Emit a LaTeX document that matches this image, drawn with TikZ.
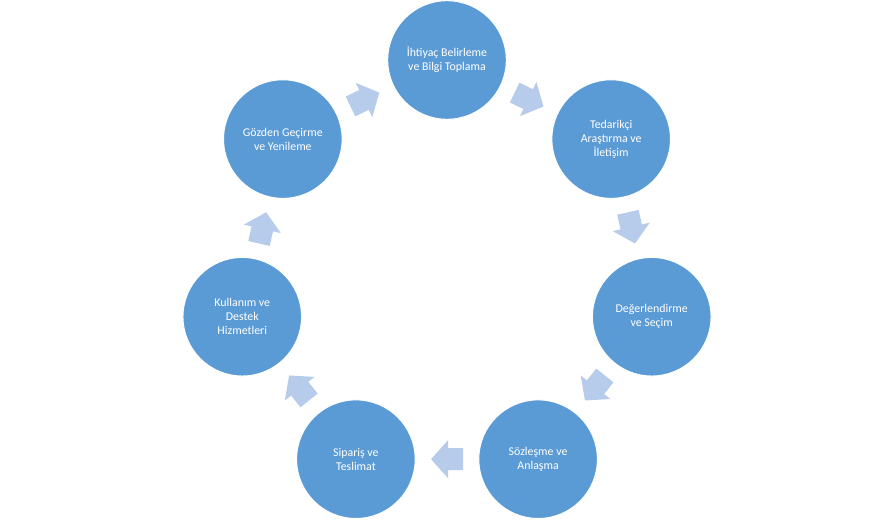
\documentclass[tikz,border=0pt]{standalone}
\usepackage{fontspec}
\setmainfont{Carlito}
\usetikzlibrary{calc}
\definecolor{circblue}{HTML}{5B9BD5}
\definecolor{arrblue}{RGB}{183,204,234}
\tikzset{
  stage/.style={circle, fill=circblue, draw=white, line width=0.8pt, minimum size=89pt, inner sep=0pt,
    text=white, align=center, font=\fontsize{8.9}{10.6}\selectfont},
  blockarrow/.style={fill=arrblue, draw=none}
}
\newcommand{\blockarr}[2]{%
  \fill[arrblue, shift={(#1)}, rotate=#2]
    (-16,-11) -- (-1,-11) -- (-1,-19) -- (16,0) -- (-1,19) -- (-1,11) -- (-16,11) -- cycle;}
\begin{document}
\begin{tikzpicture}[x=0.75pt, y=0.75pt]
\useasboundingbox (0,0) rectangle (894,522);
\coordinate (C) at (447,252);
\node[stage] (n1) at ([shift={(90:210)}]C) {İhtiyaç Belirleme\\ve Bilgi Toplama};
\node[stage] (n2) at ([shift={(38.571:210)}]C) {Tedarikçi\\Araştırma ve\\İletişim};
\node[stage] (n3) at ([shift={(-12.857:210)}]C) {Değerlendirme\\ve Seçim};
\node[stage] (n4) at ([shift={(-64.286:210)}]C) {Sözleşme ve\\Anlaşma};
\node[stage] (n5) at ([shift={(-115.714:210)}]C) {Sipariş ve\\Teslimat};
\node[stage] (n6) at ([shift={(-167.143:210)}]C) {Kullanım ve\\Destek\\Hizmetleri};
\node[stage] (n7) at ([shift={(-218.571:210)}]C) {Gözden Geçirme\\ve Yenileme};
\coordinate (m12) at ($(n1)!0.5!(n2)$);
\coordinate (m23) at ($(n2)!0.5!(n3)$);
\coordinate (m34) at ($(n3)!0.5!(n4)$);
\coordinate (m45) at ($(n4)!0.5!(n5)$);
\coordinate (m56) at ($(n5)!0.5!(n6)$);
\coordinate (m67) at ($(n6)!0.5!(n7)$);
\coordinate (m71) at ($(n7)!0.5!(n1)$);
\blockarr{m12}{-25.714}
\blockarr{m23}{-77.143}
\blockarr{m34}{-128.571}
\blockarr{m45}{-180}
\blockarr{m56}{-231.429}
\blockarr{m67}{-282.857}
\blockarr{m71}{-334.286}
\end{tikzpicture}
\end{document}
